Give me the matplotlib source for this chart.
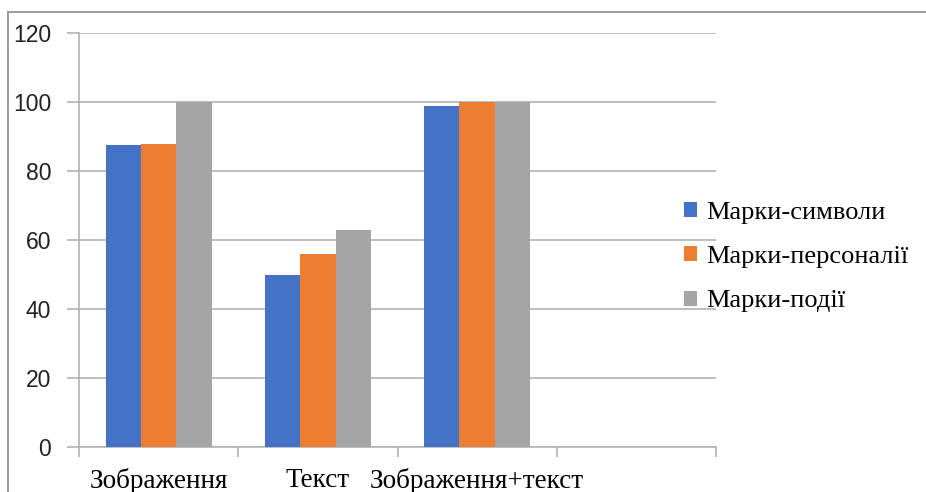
import matplotlib.pyplot as plt
import numpy as np
from matplotlib.lines import Line2D

categories = ["Зображення", "Текст", "Зображення+текст", ""]
series_names = ["Марки-символи", "Марки-персоналії", "Марки-події"]
symbols = [87.5, 50, 98.7, 0]
persons = [87.8, 55.8, 100, 0]
events = [100, 63, 100, 0]
colors = ["#4472C4", "#ED7D31", "#A5A5A5"]

fig = plt.figure(figsize=(9.26, 4.92), dpi=100)
ax = fig.add_axes([79 / 926, 1 - 447 / 492, (716 - 79) / 926, (447 - 33) / 492])

x = np.arange(len(categories))
w = 0.222
for i, (vals, name, c) in enumerate(zip([symbols, persons, events], series_names, colors)):
    ax.bar(x + (i - 1) * w, vals, width=w, color=c, label=name, zorder=3)

ax.set_xlim(-0.5, len(categories) - 0.5)
ax.set_ylim(0, 120)
ax.set_yticks(np.arange(0, 121, 20))
ax.grid(axis="y", color="#b3b3b3", linewidth=1.2, zorder=0)
ax.set_axisbelow(True)

for s in ["top", "right"]:
    ax.spines[s].set_visible(False)
for s in ["left", "bottom"]:
    ax.spines[s].set_color("#b3b3b3")
    ax.spines[s].set_linewidth(1.2)

# y gridlines reach a bit left of the axis
ax.tick_params(axis="y", length=9, color="#b3b3b3", width=1.2, pad=11,
               labelsize=16.5, labelcolor="#222222")
for t in ax.get_yticklabels():
    t.set_family("Liberation Sans")

ax.set_xticks(x)
ax.set_xticklabels(categories, family="Liberation Serif", fontsize=19.5)
ax.tick_params(axis="x", which="major", length=0, pad=15)
ax.set_xticks(np.arange(-0.5, len(categories), 1), minor=True)
ax.tick_params(axis="x", which="minor", length=7, color="#b3b3b3", width=1.2)

leg = fig.legend(loc="upper left", bbox_to_anchor=(673 / 926, 1 - 191 / 492),
                 frameon=False, prop={"family": "Liberation Serif", "size": 19},
                 handlelength=0.5, handleheight=0.5, handletextpad=0.35,
                 labelspacing=0.85, borderaxespad=0)

# outer chart frame (cropped on right and bottom)
fig.add_artist(Line2D([8 / 926, 8 / 926], [0, 1 - 12 / 492], color="#8c8c8c",
                      linewidth=1.2, transform=fig.transFigure))
fig.add_artist(Line2D([8 / 926, 1], [1 - 12 / 492, 1 - 12 / 492], color="#8c8c8c",
                      linewidth=1.2, transform=fig.transFigure))

fig.savefig("out.png", dpi=100)
